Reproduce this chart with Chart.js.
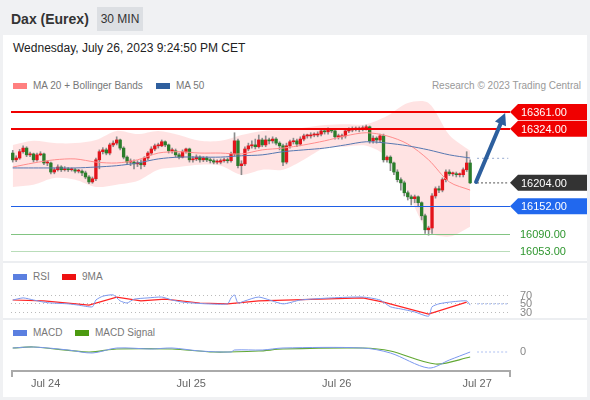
<!DOCTYPE html>
<html>
<head>
<meta charset="utf-8">
<script src="https://cdn.jsdelivr.net/npm/chart.js@4.4.0/dist/chart.umd.min.js"></script>
<style>
  body { margin: 0; width: 590px; height: 400px; position: relative; overflow: hidden; background: #f0f1f3; font-family: "Liberation Sans", Arial, sans-serif; }
  .abs { position: absolute; white-space: nowrap; }
  .card { left: 3px; top: 35px; width: 584px; height: 362px; background: #fff; }
  .title { left: 11px; top: 11px; font-size: 14px; font-weight: bold; color: #333; }
  .tf { left: 97px; top: 7px; width: 46px; height: 24px; background: #dcdfe3; font-size: 12px; color: #333; line-height: 24px; text-align: center; }
  .date { left: 13px; top: 41px; font-size: 12px; color: #222; }
  .legend { font-size: 10px; color: #777; line-height: 12px; }
  .sw { position: absolute; width: 14px; height: 6px; }
  .sep { left: 3px; width: 584px; height: 2px; background: #eceef1; }
  canvas { position: absolute; left: 0; }
</style>
</head>
<body>
<div class="abs card"></div>
<div class="abs title">Dax (Eurex)</div>
<div class="abs tf">30 MIN</div>
<div class="abs date">Wednesday, July 26, 2023 9:24:50 PM CET</div>

<div class="sw" style="left:13px; top:83px; background:#ff7f7f;"></div>
<div class="abs legend" style="left:33px; top:80px;">MA 20 + Bollinger Bands</div>
<div class="sw" style="left:156px; top:83px; background:#2f5f9e;"></div>
<div class="abs legend" style="left:176px; top:80px;">MA 50</div>
<div class="abs legend" style="right:9px; top:80px; color:#999;">Research © 2023 Trading Central</div>

<div class="abs sep" style="top:261px;"></div>
<div class="sw" style="left:13px; top:274px; background:#5b7fe0;"></div>
<div class="abs legend" style="left:33px; top:271px;">RSI</div>
<div class="sw" style="left:62px; top:274px; background:#ee1111;"></div>
<div class="abs legend" style="left:82px; top:271px;">9MA</div>

<div class="abs sep" style="top:318px;"></div>
<div class="sw" style="left:13px; top:330px; background:#5b7fe0;"></div>
<div class="abs legend" style="left:33px; top:327px;">MACD</div>
<div class="sw" style="left:75px; top:330px; background:#4c9a10;"></div>
<div class="abs legend" style="left:95px; top:327px;">MACD Signal</div>

<canvas id="priceChart" width="590" height="172" style="top:90px;"></canvas>
<canvas id="rsiChart" width="590" height="40" style="top:283px;"></canvas>
<canvas id="macdChart" width="590" height="62" style="top:334px;"></canvas>

<script>
// 30 min candles, Fri evening -> Wed 21:00
const opens = [
  16270, 16255, 16259, 16273, 16281, 16266, 16268, 16255, 16266, 16268,
  16248, 16248, 16228, 16233, 16239, 16233, 16235, 16233, 16233, 16230,
  16230, 16226, 16217, 16206, 16213, 16255, 16273, 16277, 16270, 16288,
  16292, 16299, 16281, 16261, 16250, 16250, 16246, 16248, 16244, 16259,
  16270, 16279, 16286, 16286, 16295, 16288, 16275, 16275, 16266, 16261,
  16273, 16279, 16255, 16257, 16261, 16255, 16259, 16255, 16253, 16250,
  16250, 16253, 16255, 16253, 16268, 16297, 16242, 16246, 16279, 16286,
  16288, 16284, 16299, 16288, 16299, 16297, 16301, 16292, 16286, 16250,
  16286, 16295, 16297, 16290, 16301, 16308, 16308, 16310, 16310, 16312,
  16319, 16317, 16321, 16319, 16306, 16306, 16308, 16319, 16321, 16323,
  16323, 16323, 16326, 16328, 16297, 16303, 16299, 16308, 16255, 16261,
  16248, 16228, 16211, 16204, 16182, 16173, 16169, 16173, 16160, 16131,
  16100, 16104, 16175, 16191, 16188, 16211, 16228, 16224, 16224, 16222,
  16222, 16233, 16248
];
const highs = [
  16276, 16264, 16278, 16286, 16284, 16272, 16270, 16270, 16273, 16270,
  16253, 16250, 16237, 16244, 16242, 16240, 16238, 16237, 16236, 16234,
  16233, 16230, 16220, 16217, 16259, 16277, 16282, 16281, 16292, 16297,
  16306, 16301, 16284, 16264, 16257, 16255, 16253, 16255, 16262, 16273,
  16284, 16290, 16292, 16299, 16297, 16290, 16281, 16279, 16270, 16277,
  16281, 16281, 16262, 16266, 16264, 16262, 16262, 16259, 16257, 16255,
  16257, 16259, 16259, 16272, 16315, 16301, 16253, 16284, 16292, 16297,
  16301, 16310, 16303, 16308, 16303, 16306, 16304, 16295, 16290, 16292,
  16299, 16303, 16301, 16306, 16312, 16312, 16315, 16315, 16317, 16323,
  16323, 16326, 16324, 16321, 16312, 16312, 16323, 16326, 16328, 16328,
  16328, 16330, 16332, 16330, 16308, 16306, 16312, 16312, 16264, 16264,
  16250, 16233, 16215, 16208, 16186, 16177, 16177, 16175, 16162, 16135,
  16108, 16180, 16195, 16197, 16215, 16233, 16233, 16228, 16228, 16226,
  16237, 16273, 16255
];
const lows = [
  16250, 16251, 16256, 16270, 16262, 16262, 16250, 16252, 16264, 16244,
  16242, 16224, 16224, 16230, 16229, 16230, 16229, 16230, 16226, 16226,
  16220, 16213, 16202, 16203, 16209, 16235, 16268, 16266, 16266, 16284,
  16288, 16277, 16257, 16244, 16242, 16235, 16240, 16235, 16240, 16255,
  16266, 16275, 16281, 16284, 16284, 16270, 16270, 16262, 16257, 16259,
  16270, 16250, 16250, 16253, 16250, 16251, 16251, 16248, 16246, 16246,
  16246, 16250, 16248, 16250, 16264, 16237, 16222, 16242, 16275, 16281,
  16279, 16281, 16284, 16284, 16290, 16292, 16288, 16277, 16242, 16246,
  16281, 16290, 16284, 16286, 16297, 16303, 16303, 16306, 16306, 16308,
  16312, 16312, 16315, 16301, 16301, 16301, 16303, 16315, 16317, 16319,
  16317, 16319, 16321, 16292, 16292, 16292, 16295, 16250, 16250, 16231,
  16222, 16206, 16188, 16175, 16166, 16155, 16160, 16151, 16122, 16092,
  16088, 16092, 16170, 16182, 16184, 16206, 16220, 16219, 16217, 16217,
  16217, 16229, 16202
];
const closes = [
  16255, 16259, 16273, 16281, 16266, 16268, 16255, 16266, 16268, 16248,
  16248, 16228, 16233, 16239, 16233, 16235, 16233, 16233, 16230, 16230,
  16226, 16217, 16206, 16213, 16255, 16273, 16277, 16270, 16288, 16292,
  16299, 16281, 16261, 16250, 16250, 16246, 16248, 16244, 16259, 16270,
  16279, 16286, 16286, 16295, 16288, 16275, 16275, 16266, 16261, 16273,
  16279, 16255, 16257, 16261, 16255, 16259, 16255, 16253, 16250, 16250,
  16253, 16255, 16253, 16268, 16297, 16242, 16246, 16279, 16286, 16288,
  16284, 16299, 16288, 16299, 16297, 16301, 16292, 16286, 16250, 16286,
  16295, 16297, 16290, 16301, 16308, 16308, 16310, 16310, 16312, 16319,
  16317, 16321, 16319, 16306, 16306, 16308, 16319, 16321, 16323, 16323,
  16323, 16326, 16328, 16297, 16303, 16299, 16308, 16255, 16261, 16248,
  16228, 16211, 16204, 16182, 16173, 16169, 16173, 16160, 16131, 16100,
  16104, 16175, 16191, 16188, 16211, 16228, 16224, 16224, 16222, 16222,
  16233, 16248, 16204
];

// indicators, read every 6th candle
const bandIdx = [0, 6, 12, 18, 24, 30, 36, 42, 48, 54, 60, 66, 72, 78, 84, 90, 96, 102, 108, 114, 120, 126, 132];
const bbUpper = [16288, 16297, 16292, 16292, 16299, 16319, 16312, 16319, 16310, 16297, 16297, 16310, 16319, 16321, 16326, 16332, 16334, 16334, 16352, 16381, 16381, 16310, 16275];
const bbLower = [16195, 16200, 16215, 16211, 16195, 16200, 16208, 16233, 16239, 16244, 16242, 16222, 16233, 16233, 16255, 16281, 16284, 16286, 16261, 16182, 16096, 16085, 16107];
const ma20 = [16239, 16248, 16255, 16257, 16250, 16248, 16255, 16270, 16273, 16270, 16270, 16268, 16277, 16281, 16288, 16297, 16308, 16315, 16308, 16290, 16255, 16206, 16188];
const ma50 = [16237, 16237, 16237, 16237, 16239, 16242, 16248, 16257, 16261, 16261, 16261, 16264, 16266, 16273, 16277, 16281, 16288, 16295, 16292, 16286, 16277, 16266, 16259];

const rsiIdx = [0, 3, 6, 9, 11, 16, 19, 23, 24, 26, 29, 31, 33, 35, 39, 43, 46, 49, 52, 56, 62, 63, 64, 65, 67, 71, 78, 83, 92, 101, 106, 109, 112, 116, 120, 121, 123, 126, 131, 132];
const rsiVals = [57, 62, 57, 52, 50, 48, 45, 41, 57, 66, 69, 55, 50, 59, 62, 64, 57, 52, 50, 48, 48, 62, 69, 50, 55, 64, 48, 57, 62, 64, 57, 41, 36, 29, 19, 41, 48, 52, 55, 45];
const rsiMaIdx = [0, 9, 22, 30, 37, 44, 54, 62, 71, 101, 107, 120, 131];
const rsiMaVals = [57, 55, 45, 64, 55, 59, 50, 48, 55, 62, 52, 24, 52];

const macdIdx = [0, 6, 16, 23, 30, 40, 46, 54, 63, 64, 72, 78, 101, 109, 120, 126, 132];
const macdVals = [7.5, 10, 2.5, -5, 7.5, 5, 7.5, 0, -2.5, 2.5, 2.5, 7.5, 7.5, -5, -42.5, -22.5, -2.5];
const signalIdx = [0, 6, 22, 30, 46, 58, 71, 78, 101, 109, 122, 132];
const signalVals = [7.5, 10, -2.5, 5, 5, -2.5, 0, 5, 7.5, 0, -32.5, -15];

const lastPrice = 16204;
const ma50Last = 16258;
const rsiLast = 48;
const macdLast = -2.5;
const resistances = [16361, 16324];
const supports = [16152];
const targets = [16090, 16053];
const rsiLevels = [70, 50, 30];
const tickIdx = [9.5, 51.5, 93.5, 134];
const tickText = ['Jul 24', 'Jul 25', 'Jul 26', 'Jul 27'];
const arrowFrom = [133.7, 16206];
const arrowTo = [142.1, 16359];

const N = 144; // candle slots incl. empty space on the right
const slots = Array.from({ length: N }, (_, i) => String(i));

Chart.defaults.font.family = '"Liberation Sans", Arial, sans-serif';
Chart.defaults.animation = false;
const FONT = '11px "Liberation Sans", Arial, sans-serif';

function spread(idx, vals) {
    const out = new Array(N).fill(null);
    idx.forEach((k, j) => { out[k] = vals[j]; });
    return out;
}

function lineSet(data, color, width, extra) {
    return Object.assign({
        type: 'line', data, borderColor: color, borderWidth: width,
        pointRadius: 0, spanGaps: true, tension: 0.3, fill: false
    }, extra || {});
}

const baseOptions = (yMin, yMax, pad) => ({
    responsive: false,
    devicePixelRatio: 1,
    events: [],
    layout: { padding: pad },
    plugins: { legend: { display: false }, tooltip: { enabled: false } },
    scales: {
        x: { display: false, offset: true },
        y: { display: false, min: yMin, max: yMax }
    }
});

function tag(ctx, x0, right, py, text, bg) {
    ctx.beginPath();
    ctx.moveTo(x0, py);
    ctx.lineTo(x0 + 8, py - 8);
    ctx.lineTo(right, py - 8);
    ctx.lineTo(right, py + 8);
    ctx.lineTo(x0 + 8, py + 8);
    ctx.closePath();
    ctx.fillStyle = bg;
    ctx.fill();
    ctx.fillStyle = '#fff';
    ctx.fillText(text, x0 + 11, py + 1);
}

const priceMarks = {
    id: 'priceMarks',
    afterDatasetsDraw(chart) {
        const { ctx, chartArea: a, scales: { x, y } } = chart;
        ctx.save();
        const hline = (v, color, w) => {
            const py = Math.round(y.getPixelForValue(v)) + (w % 2 ? 0.5 : 0);
            ctx.beginPath();
            ctx.strokeStyle = color;
            ctx.lineWidth = w;
            ctx.moveTo(a.left, py);
            ctx.lineTo(a.right, py);
            ctx.stroke();
        };
        resistances.forEach(v => hline(v, '#f00000', 2));
        supports.forEach(v => hline(v, '#1f5fe6', 1));
        hline(targets[0], '#82c482', 1);
        hline(targets[1], '#b9ddb9', 1);

        // target arrow
        const x1 = x.getPixelForValue(arrowFrom[0]), y1 = y.getPixelForValue(arrowFrom[1]);
        const x2 = x.getPixelForValue(arrowTo[0]), y2 = y.getPixelForValue(arrowTo[1]);
        const ang = Math.atan2(y2 - y1, x2 - x1);
        const head = 12;
        ctx.strokeStyle = '#2d5f9e';
        ctx.fillStyle = '#2d5f9e';
        ctx.lineWidth = 4;
        ctx.lineCap = 'round';
        ctx.beginPath();
        ctx.moveTo(x1, y1);
        ctx.lineTo(x2 - Math.cos(ang) * head * 0.8, y2 - Math.sin(ang) * head * 0.8);
        ctx.stroke();
        ctx.beginPath();
        ctx.moveTo(x2, y2);
        ctx.lineTo(x2 - Math.cos(ang) * head + Math.sin(ang) * 6, y2 - Math.sin(ang) * head - Math.cos(ang) * 6);
        ctx.lineTo(x2 - Math.cos(ang) * head - Math.sin(ang) * 6, y2 - Math.sin(ang) * head + Math.cos(ang) * 6);
        ctx.closePath();
        ctx.fill();
        ctx.restore();
    },
    afterDraw(chart) {
        const { ctx, chartArea: a, scales: { y } } = chart;
        ctx.save();
        ctx.font = FONT;
        ctx.textBaseline = 'middle';
        const right = chart.width - 3;
        resistances.forEach(v => tag(ctx, a.right, right, y.getPixelForValue(v), v.toFixed(2), '#f00000'));
        tag(ctx, a.right, right, y.getPixelForValue(lastPrice), lastPrice.toFixed(2), '#333333');
        supports.forEach(v => tag(ctx, a.right, right, y.getPixelForValue(v), v.toFixed(2), '#2168ee'));
        ctx.fillStyle = '#2e962e';
        targets.forEach(v => ctx.fillText(v.toFixed(2), a.right + 10, y.getPixelForValue(v) + 1));
        ctx.restore();
    }
};

new Chart(document.getElementById('priceChart'), {
    type: 'bar',
    data: {
        labels: slots,
        datasets: [
            lineSet(spread(bandIdx, bbUpper), 'transparent', 0, { fill: '+1', backgroundColor: 'rgba(255,0,0,0.11)', order: 10 }),
            lineSet(spread(bandIdx, bbLower), 'transparent', 0, { order: 10 }),
            {
                data: lows.map((l, i) => [l, highs[i]]),
                backgroundColor: '#8c8c8c', barThickness: 1, grouped: false, order: 5
            },
            {
                data: opens.map((o, i) => [o, closes[i]]),
                backgroundColor: opens.map((o, i) => closes[i] >= o ? '#e3141b' : '#2b7d2b'),
                barThickness: 2.7, minBarLength: 1, grouped: false, order: 4
            },
            lineSet(spread(bandIdx, ma20), '#ff8c8c', 1, { order: 2 }),
            lineSet(spread(bandIdx, ma50), '#5677b0', 1, { order: 1 }),
            lineSet(spread([134, N - 1], [ma50Last, ma50Last]), '#a8b8d8', 1.2, { borderDash: [2, 3], order: 1 }),
            lineSet(spread([134, N - 1], [lastPrice, lastPrice]), '#777', 1.2, { borderDash: [2, 2], order: 1 })
        ]
    },
    options: baseOptions(16037.5, 16398.6, { left: 11, right: 80, top: 5, bottom: 4 }),
    plugins: [priceMarks]
});

const rsiGuides = {
    id: 'rsiGuides',
    beforeDatasetsDraw(chart) {
        const { ctx, chartArea: a, scales: { y } } = chart;
        ctx.save();
        ctx.strokeStyle = '#bbbbbb';
        ctx.lineWidth = 1;
        ctx.setLineDash([1, 3]);
        rsiLevels.forEach(v => {
            const py = Math.round(y.getPixelForValue(v)) + 0.5;
            ctx.beginPath();
            ctx.moveTo(a.left, py);
            ctx.lineTo(a.right - 2, py);
            ctx.stroke();
        });
        ctx.restore();
    },
    afterDraw(chart) {
        const { ctx, chartArea: a, scales: { y } } = chart;
        ctx.save();
        ctx.font = FONT;
        ctx.textBaseline = 'middle';
        rsiLevels.forEach(v => {
            const py = y.getPixelForValue(v);
            // labels sit on a white box, later ones hide the earlier ones
            ctx.fillStyle = '#fff';
            ctx.fillRect(a.right + 9, py - 3, 16, 9);
            ctx.fillStyle = '#888';
            ctx.fillText(String(v), a.right + 10, py + 1);
        });
        ctx.restore();
    }
};

new Chart(document.getElementById('rsiChart'), {
    type: 'line',
    data: {
        labels: slots,
        datasets: [
            lineSet(spread(rsiIdx, rsiVals), '#7b98ee', 1, { tension: 0.2 }),
            lineSet(spread(rsiMaIdx, rsiMaVals), '#ff2424', 1.2, { tension: 0 }),
            lineSet(spread([134, N - 1], [rsiLast, rsiLast]), '#b0c2f2', 1.2, { borderDash: [2, 2] })
        ]
    },
    options: baseOptions(10, 90, { left: 11, right: 80, top: 3, bottom: 3 }),
    plugins: [rsiGuides]
});

const macdMarks = {
    id: 'macdMarks',
    afterDraw(chart) {
        const { ctx, chartArea: a, scales: { x, y } } = chart;
        ctx.save();
        // time axis
        ctx.strokeStyle = '#aaa';
        ctx.lineWidth = 2;
        ctx.beginPath();
        ctx.moveTo(a.left + 1, a.bottom + 7);
        ctx.lineTo(a.left + 1, a.bottom + 1);
        ctx.lineTo(a.right, a.bottom + 1);
        ctx.lineTo(a.right, a.bottom + 7);
        ctx.stroke();
        ctx.font = FONT;
        ctx.textBaseline = 'middle';
        ctx.textAlign = 'center';
        ctx.fillStyle = '#666';
        tickIdx.forEach((k, j) => ctx.fillText(tickText[j], x.getPixelForValue(k), a.bottom + 14));
        ctx.textAlign = 'left';
        ctx.fillStyle = '#888';
        ctx.fillText('0', a.right + 10, y.getPixelForValue(0) + 1);
        ctx.restore();
    }
};

new Chart(document.getElementById('macdChart'), {
    type: 'line',
    data: {
        labels: slots,
        datasets: [
            lineSet(spread(macdIdx, macdVals), '#7b98ee', 1, { tension: 0.3 }),
            lineSet(spread(signalIdx, signalVals), '#62a834', 1.2, { tension: 0.3 }),
            lineSet(spread([134, N - 1], [macdLast, macdLast]), '#b0c2f2', 1.2, { borderDash: [2, 2] })
        ]
    },
    options: baseOptions(-47.5, 35, { left: 11, right: 80, top: 3, bottom: 26 }),
    plugins: [macdMarks]
});
</script>
</body>
</html>
